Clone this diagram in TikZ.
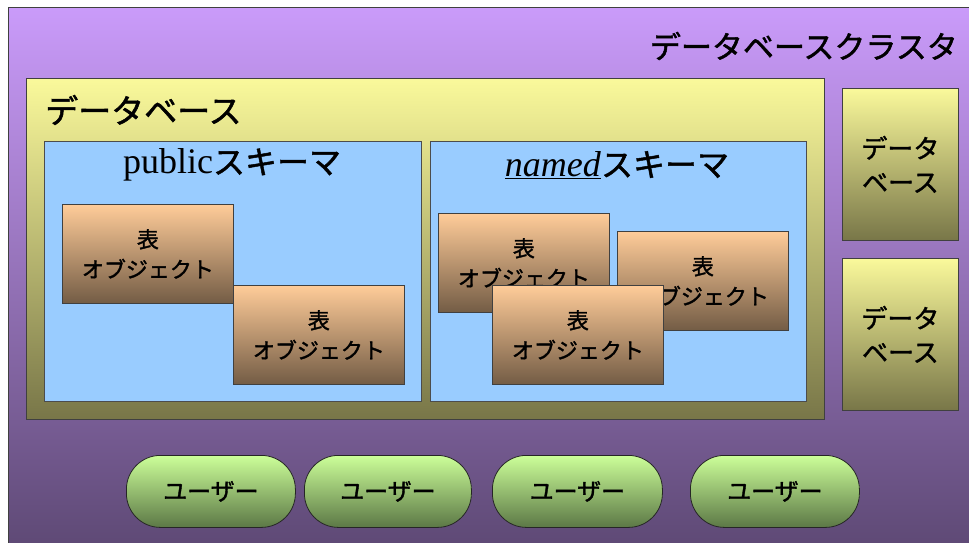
\documentclass[tikz,border=0pt]{standalone}
\usepackage{fontspec}
\setmainfont{Liberation Serif}
\newfontfamily\jp[FakeBold=1.5]{Noto Sans CJK JP}
\tikzset{
  box/.style={draw=black!75, line width=0.8pt, inner sep=0pt},
  cluster/.style={box, top color=clusterTop, bottom color=clusterBot},
  dbbox/.style={box, top color=dbTop, bottom color=dbBot},
  schema/.style={box, draw=black!70, fill=schemaFill},
  tablebox/.style={box, top color=tblTop, bottom color=tblBot, minimum width=171, minimum height=99,
    align=center, font=\jp\fontsize{22}{30}\selectfont},
  userbox/.style={box, draw=black!85, rounded corners=34, top color=usrTop, bottom color=usrBot,
    minimum width=169, minimum height=72, font=\jp\fontsize{24}{28}\selectfont},
  sidedb/.style={dbbox, minimum width=116, minimum height=152, align=center,
    font=\jp\fontsize{26}{34}\selectfont},
  lbl/.style={inner sep=0pt}
}
\definecolor{clusterTop}{HTML}{CA9BFA}
\definecolor{clusterBot}{HTML}{5A4670}
\definecolor{dbTop}{HTML}{FAF99B}
\definecolor{dbBot}{HTML}{787648}
\definecolor{schemaFill}{HTML}{99CCFF}
\definecolor{tblTop}{HTML}{FFCC99}
\definecolor{tblBot}{HTML}{735C45}
\definecolor{usrTop}{HTML}{CCFF99}
\definecolor{usrBot}{HTML}{5C7846}
\begin{document}
\begin{tikzpicture}[x=1pt,y=-1pt]
\useasboundingbox[fill=white] (0,0) rectangle (969,542);
\begin{scope}
\clip (0,0) rectangle (969,542);
\node[cluster, minimum width=976, minimum height=560, anchor=north west] (cl) at (8,7) {};
\end{scope}
\node[lbl, anchor=east, font=\jp\fontsize{31}{36}\selectfont] (cltitle) at (958,46) {データベースクラスタ};
% main database
\node[dbbox, minimum width=798, minimum height=341, anchor=north west] (db) at (26,78) {};
\node[lbl, anchor=west, font=\jp\fontsize{33}{36}\selectfont] (dbtitle) at (45,110) {データベース};
% schemas
\node[schema, minimum width=377, minimum height=260, anchor=north west] (pub) at (44,141) {};
\node[lbl] (publbl) at (232,165) {{\fontsize{36}{40}\selectfont public}{\jp\fontsize{32}{36}\selectfont スキーマ}};
\node[schema, minimum width=376, minimum height=260, anchor=north west] (nam) at (430,141) {};
\node[lbl] (namlbl) at (617,165) {{\fontsize{36}{40}\selectfont\underline{\textit{named}}}{\jp\fontsize{32}{36}\selectfont スキーマ}};
% public tables
\node[tablebox, anchor=north west] (t1) at (62,204) {表\\オブジェクト};
\node[tablebox, anchor=north west] (t2) at (233,285) {表\\オブジェクト};
% named tables
\node[tablebox, anchor=north west] (t3) at (438,213) {表\\オブジェクト};
\node[tablebox, anchor=north west] (t4) at (617,231) {表\\オブジェクト};
\node[tablebox, anchor=north west] (t5) at (492,285) {表\\オブジェクト};
% side databases
\node[sidedb, anchor=north west] (db2) at (842,88) {データ\\ベース};
\node[sidedb, anchor=north west] (db3) at (842,258) {データ\\ベース};
% users
\node[userbox, anchor=north west] (u1) at (126,455) {ユーザー};
\node[userbox, anchor=north west, minimum width=167] (u2) at (304,455) {ユーザー};
\node[userbox, anchor=north west, minimum width=170] (u3) at (492,455) {ユーザー};
\node[userbox, anchor=north west] (u4) at (690,455) {ユーザー};
\end{tikzpicture}
\end{document}
